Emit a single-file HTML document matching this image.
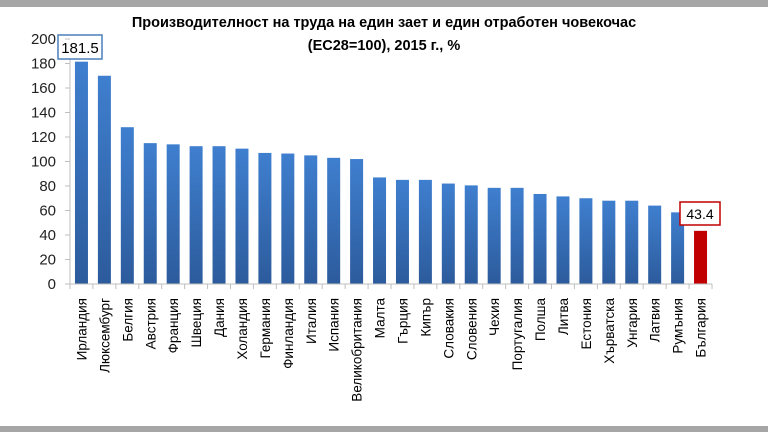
<!DOCTYPE html>
<html><head><meta charset="utf-8"><style>
body{margin:0;width:768px;height:432px;overflow:hidden;background:#fff}
svg{display:block}
text{font-family:"Liberation Sans",sans-serif}
</style></head><body>
<svg width="768" height="432" xmlns="http://www.w3.org/2000/svg">
<defs><linearGradient id="g" x1="0" y1="0" x2="0" y2="1"><stop offset="0" stop-color="#3f7fcf"/><stop offset="1" stop-color="#2c5b9c"/></linearGradient></defs>
<rect x="0" y="0" width="768" height="7" fill="#a6a6a6"/>
<rect x="0" y="426" width="768" height="6" fill="#a6a6a6"/>
<text x="384" y="27" text-anchor="middle" font-size="14.5" font-weight="bold" fill="#000">Производителност на труда на един зает и един отработен човекочас</text>
<text x="384" y="50" text-anchor="middle" font-size="14.5" font-weight="bold" fill="#000">(ЕС28=100), 2015 г., %</text>
<g id="ax" font-size="15" fill="#222" text-anchor="end"></g>
<g id="bars"></g>
<line x1="70" y1="39" x2="70" y2="284" stroke="#bfbfbf"/>
<line x1="70" y1="284" x2="712" y2="284" stroke="#bfbfbf"/>
<rect x="58" y="35" width="44" height="24" fill="#fff" stroke="#4a7ebb" stroke-width="1.5"/>
<text x="80" y="53" text-anchor="middle" font-size="15" fill="#000">181.5</text>
<rect x="680" y="202" width="40" height="23" fill="#fff" stroke="#c00000" stroke-width="1.5"/>
<text x="700" y="219" text-anchor="middle" font-size="14" fill="#000">43.4</text>
</svg>
<script>
var ns="http://www.w3.org/2000/svg",s=document.querySelector('svg'),ax=document.getElementById('ax'),bg=document.getElementById('bars');
function el(t,a,p,txt){var e=document.createElementNS(ns,t);for(var k in a)e.setAttribute(k,a[k]);if(txt)e.textContent=txt;(p||s).appendChild(e);return e;}
for(var v=0;v<=200;v+=20){var y=284-v*1.225;el('text',{x:56,y:y+5},ax,String(v));el('line',{x1:65,y1:y,x2:70,y2:y,stroke:'#bfbfbf'});}
var d=[["Ирландия",181.5],["Люксембург",170],["Белгия",128],["Австрия",115],["Франция",114],["Швеция",112.5],["Дания",112.5],["Холандия",110.5],["Германия",107],["Финландия",106.5],["Италия",105],["Испания",103],["Великобритания",102],["Малта",87],["Гърция",85],["Кипър",85],["Словакия",82],["Словения",80.5],["Чехия",78.5],["Португалия",78.5],["Полша",73.5],["Литва",71.5],["Естония",70],["Хърватска",68],["Унгария",68],["Латвия",64],["Румъния",58.5],["България",43.4]];
var sp=642/28;
d.forEach(function(r,i){var x0=70+i*sp,cx=x0+sp/2,h=r[1]*1.225;
el('rect',{x:cx-6.5,y:284-h,width:13,height:h,fill:i==27?'#c00000':'url(#g)'},bg);
el('line',{x1:x0+sp,y1:284,x2:x0+sp,y2:289,stroke:'#bfbfbf'});
el('text',{x:0,y:0,transform:'translate('+(cx+5)+',298) rotate(-90)','text-anchor':'end','font-size':13.5,fill:'#000'},null,r[0]);});
el('line',{x1:70,y1:284,x2:70,y2:289,stroke:'#bfbfbf'});
</script>
</body></html>
